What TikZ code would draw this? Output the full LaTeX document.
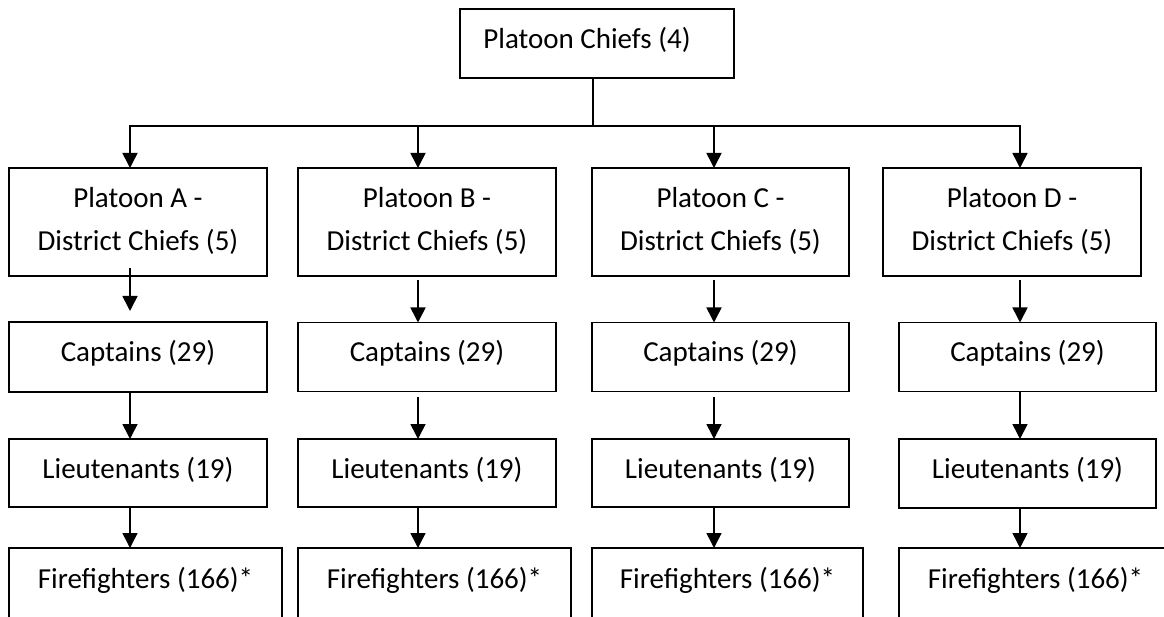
\documentclass[tikz,border=0pt]{standalone}
\usepackage{fontspec}
\setmainfont{Carlito}
\usetikzlibrary{arrows.meta}
\begin{document}
\begin{tikzpicture}[x=1pt,y=-1pt,
  box/.style={draw, line width=1.6pt, inner sep=0pt, outer sep=0pt, align=center,
    font=\fontsize{29}{43}\selectfont, text height=18pt, text depth=8pt},
  twoline/.style={text height=63pt, text depth=5pt},
  firebox/.style={text height=18pt, text depth=12pt},
  conn/.style={line width=1.6pt},
  arr/.style={line width=1.6pt, -{Triangle[width=15pt,length=15pt]}}]
\useasboundingbox (0,0) rectangle (1164,617);
\begin{scope}
\clip (0,0) rectangle (1164,617);
% top
\node[box, minimum width=274pt, minimum height=69pt] (top) at (597,43.5) {Platoon Chiefs (4)\hspace{20pt}};
% district chiefs
\node[box, twoline, minimum width=258pt, minimum height=108pt] (dA) at (138,222) {Platoon A -\\District Chiefs (5)};
\node[box, twoline, minimum width=258pt, minimum height=108pt] (dB) at (427,222) {Platoon B -\\District Chiefs (5)};
\node[box, twoline, minimum width=257pt, minimum height=108pt] (dC) at (720.5,222) {Platoon C -\\District Chiefs (5)};
\node[box, twoline, minimum width=258pt, minimum height=108pt] (dD) at (1012,222) {Platoon D -\\District Chiefs (5)};
% captains
\node[box, minimum width=258pt, minimum height=70pt] (cA) at (138,357) {Captains (29)};
\node[box, minimum width=258pt, minimum height=69pt] (cB) at (427,357) {Captains (29)};
\node[box, minimum width=257pt, minimum height=69pt] (cC) at (720.5,357) {Captains (29)};
\node[box, minimum width=257pt, minimum height=69pt] (cD) at (1027.5,357) {Captains (29)};
% lieutenants
\node[box, minimum width=258pt, minimum height=68pt] (lA) at (138,473) {Lieutenants (19)};
\node[box, minimum width=258pt, minimum height=68pt] (lB) at (427,473) {Lieutenants (19)};
\node[box, minimum width=257pt, minimum height=68pt] (lC) at (720.5,473) {Lieutenants (19)};
\node[box, minimum width=257pt, minimum height=69pt] (lD) at (1027.5,473.5) {Lieutenants (19)};
% firefighters
\node[box, firebox, minimum width=273pt, minimum height=74pt] (fA) at (145.5,585) {Firefighters (166)*};
\node[box, firebox, minimum width=273pt, minimum height=74pt] (fB) at (434.5,585) {Firefighters (166)*};
\node[box, firebox, minimum width=271pt, minimum height=74pt] (fC) at (727.5,585) {Firefighters (166)*};
\node[box, firebox, minimum width=273pt, minimum height=74pt] (fD) at (1035.5,585) {Firefighters (166)*};
% column coordinates
\coordinate (xA) at (130,0);
\coordinate (xB) at (418,0);
\coordinate (xC) at (714,0);
\coordinate (xD) at (1020,0);
\coordinate (hub) at (593,126);
% top connectors
\draw[conn] (top.south -| hub) -- (hub);
\draw[arr] (hub) -- (hub -| xA) -- (dA.north -| xA);
\draw[arr] (hub) -- (hub -| xD) -- (dD.north -| xD);
\draw[arr] (hub -| xB) -- (dB.north -| xB);
\draw[arr] (hub -| xC) -- (dC.north -| xC);
% district -> captains
\draw[arr, shorten <=-8pt, shorten >=11pt] (dA.south -| xA) -- (cA.north -| xA);
\draw[arr, shorten <=4pt] (dB.south -| xB) -- (cB.north -| xB);
\draw[arr, shorten <=4pt] (dC.south -| xC) -- (cC.north -| xC);
\draw[arr, shorten <=4pt] (dD.south -| xD) -- (cD.north -| xD);
% captains -> lieutenants
\draw[arr] (cA.south -| xA) -- (lA.north -| xA);
\draw[arr, shorten <=5pt] (cB.south -| xB) -- (lB.north -| xB);
\draw[arr, shorten <=5pt] (cC.south -| xC) -- (lC.north -| xC);
\draw[arr] (cD.south -| xD) -- (lD.north -| xD);
% lieutenants -> firefighters
\draw[arr] (lA.south -| xA) -- (fA.north -| xA);
\draw[arr] (lB.south -| xB) -- (fB.north -| xB);
\draw[arr] (lC.south -| xC) -- (fC.north -| xC);
\draw[arr] (lD.south -| xD) -- (fD.north -| xD);
\end{scope}
\end{tikzpicture}
\end{document}
